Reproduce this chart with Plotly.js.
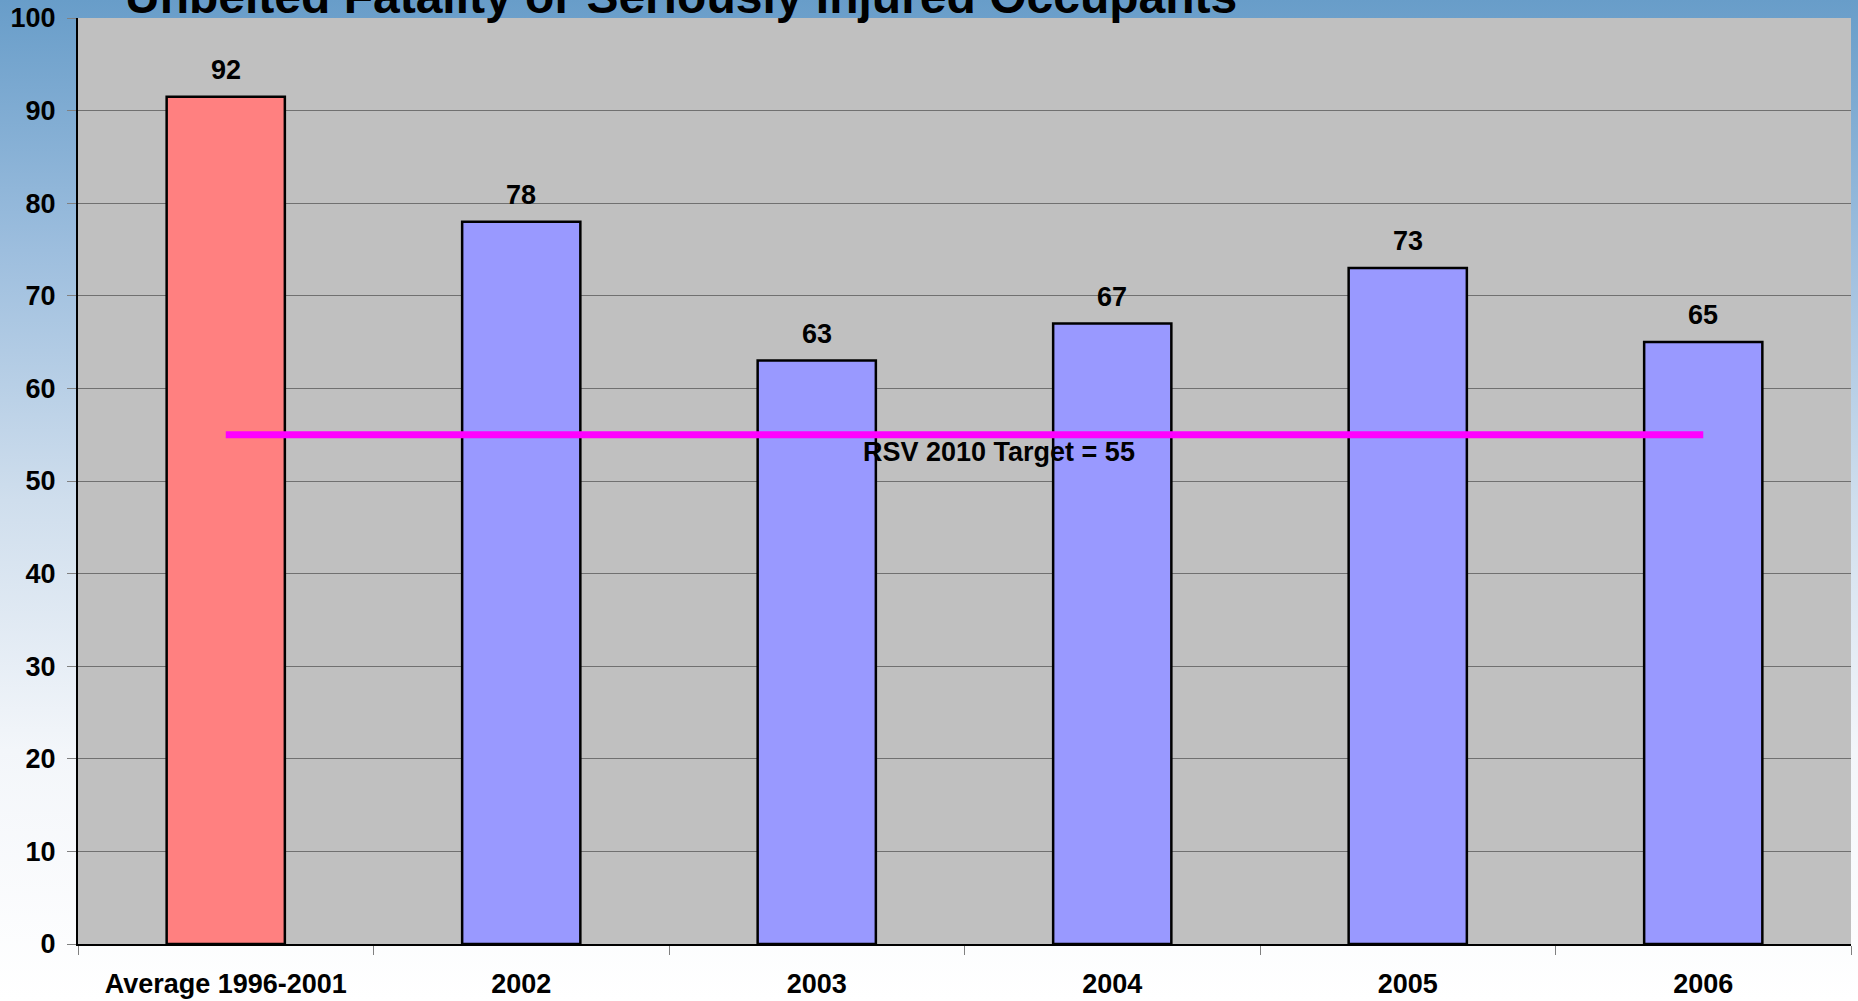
<!DOCTYPE html>
<html>
<head>
<meta charset="utf-8">
<script src="https://cdn.plot.ly/plotly-3.0.1.min.js"></script>
<style>
html, body { margin:0; padding:0; }
body {
  width:1858px; height:1001px; overflow:hidden;
  background: linear-gradient(to bottom, #689dc9 0%, #9dbede 25%, #cfdeed 50%, #f3f6fa 75%, #ffffff 100%);
}
#chart { width:1858px; height:1001px; }
</style>
</head>
<body>
<div id="chart"></div>
<script>
// ---- data ----
const categories = ["Average 1996-2001", "2002", "2003", "2004", "2005", "2006"];
const values = [91.5, 78, 63, 67, 73, 65];
const barColors = ["#ff8080", "#9999ff", "#9999ff", "#9999ff", "#9999ff", "#9999ff"];
const targetValue = 55;
const targetLabel = "RSV 2010 Target = 55";
const chartTitle = "Unbelted Fatality or Seriously Injured Occupants";
const yTicks = [0, 10, 20, 30, 40, 50, 60, 70, 80, 90, 100];

const FONT = "Liberation Sans, Arial, sans-serif";

const barTrace = {
  type: "bar",
  x: categories,
  y: values,
  width: 0.4,
  marker: { color: barColors, line: { color: "#000000", width: 2.5 } },
  hoverinfo: "x+y",
  showlegend: false
};

const targetTrace = {
  type: "scatter",
  mode: "lines",
  x: [categories[0], categories[categories.length - 1]],
  y: [targetValue, targetValue],
  line: { color: "#ff00ff", width: 7 },
  showlegend: false,
  hoverinfo: "y"
};

const annotations = categories.map((c, i) => ({
  x: i, y: values[i], xref: "x", yref: "y",
  text: Math.round(values[i]).toString(),
  showarrow: false, yanchor: "bottom", yshift: 10,
  font: { family: FONT, size: 27, color: "#000000", weight: "bold" }
}));

annotations.push({
  x: 2.617, y: targetValue, xref: "x", yref: "y",
  text: targetLabel, showarrow: false, yanchor: "middle", yshift: -17,
  font: { family: FONT, size: 27, color: "#000000", weight: "bold" }
});

annotations.push({
  x: 0.34, y: 1, xref: "paper", yref: "paper",
  text: chartTitle, showarrow: false, xanchor: "center", yanchor: "middle", yshift: 22,
  font: { family: FONT, size: 48, color: "#000000", weight: "bold" }
});

const layout = {
  width: 1858, height: 1001,
  margin: { l: 78, r: 7, t: 18, b: 57, pad: 0 },
  paper_bgcolor: "rgba(0,0,0,0)",
  plot_bgcolor: "#c0c0c0",
  xaxis: {
    type: "category",
    categoryorder: "array",
    categoryarray: categories,
    range: [-0.5, categories.length - 0.5],
    tickson: "boundaries",
    ticks: "outside", ticklen: 9, tickcolor: "#808080", tickwidth: 1,
    showline: true, linecolor: "#000000", linewidth: 2,
    showgrid: false,
    tickangle: 0,
    tickfont: { family: FONT, size: 27, color: "#000000", weight: "bold" },
    ticklabelstandoff: 15
  },
  yaxis: {
    range: [0, 100],
    tickvals: yTicks,
    ticktext: yTicks.map(String),
    ticks: "outside", ticklen: 9, tickcolor: "#808080", tickwidth: 1,
    showline: true, linecolor: "#000000", linewidth: 2,
    showgrid: true, gridcolor: "#707070", gridwidth: 1,
    zeroline: false,
    tickfont: { family: FONT, size: 27, color: "#000000", weight: "bold" },
    ticklabelstandoff: 6
  },
  annotations: annotations,
  font: { family: FONT }
};

Plotly.newPlot("chart", [barTrace, targetTrace], layout, { displayModeBar: false, staticPlot: true });
</script>
</body>
</html>
